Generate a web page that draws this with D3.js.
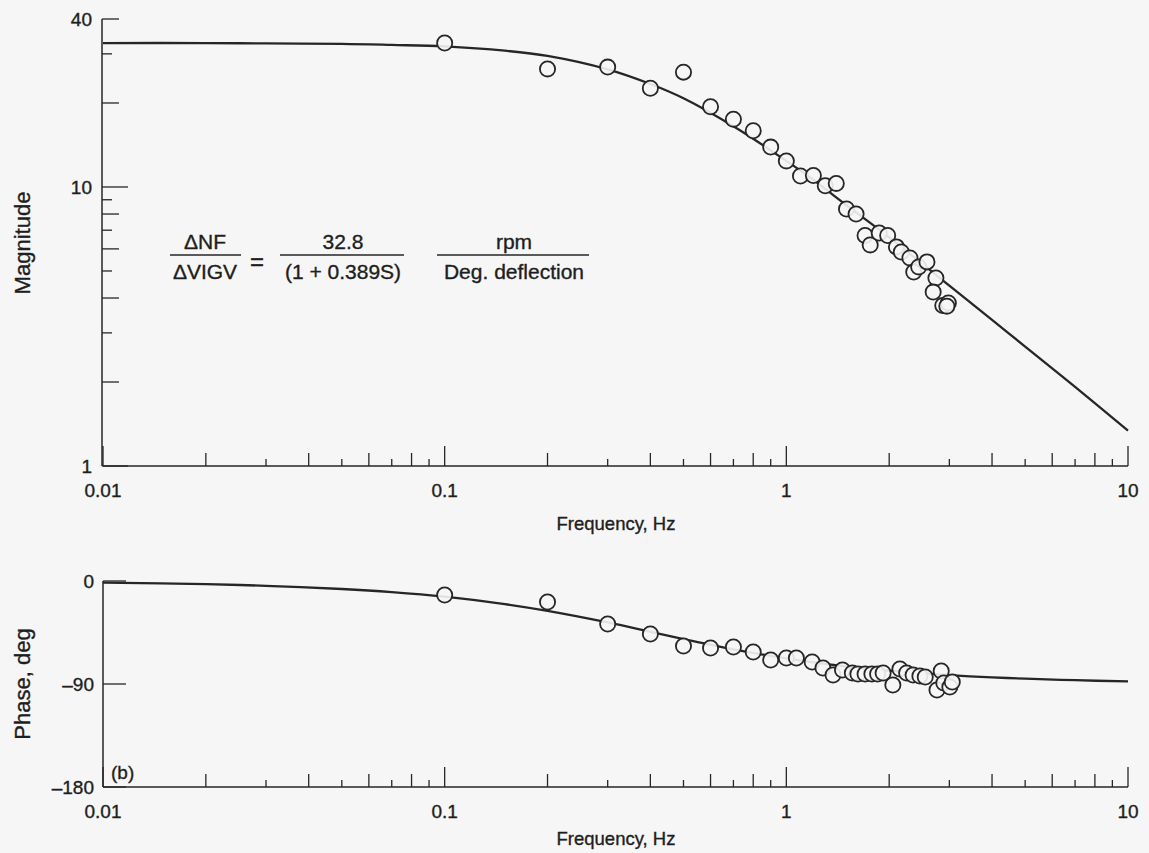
<!DOCTYPE html>
<html>
<head>
<meta charset="utf-8">
<script src="https://cdn.jsdelivr.net/npm/d3@7"></script>
<style>
  html, body { margin: 0; padding: 0; background: #f6f6f6; }
  svg { display: block; font-family: "Liberation Sans", Arial, Helvetica, sans-serif; }
  text { stroke: #1e1e1e; stroke-width: 0.35px; }
</style>
</head>
<body>
<svg id="chart" width="1149" height="853"></svg>
<script>
// ---- Data ----
const freqTickLabels = ["0.01", "0.1", "1", "10"];
const freqTickValues = [0.01, 0.1, 1, 10];
const magTickLabels = ["40", "10", "1"];
const magTickValues = [40, 10, 1];
const phaseTickLabels = ["0", "\u201390", "\u2013180"];
const phaseTickValues = [0, -90, -180];

// fitted curve
const curveFreq  = [0.01, 0.02, 0.03, 0.05, 0.07, 0.1, 0.15, 0.2, 0.3, 0.4, 0.5, 0.7, 1, 1.2, 1.5, 2, 3, 4, 5, 7, 10];
const curveMag   = [32.8, 32.8, 32.7, 32.6, 32.3, 31.9, 30.8, 29.5, 26.4, 23.4, 20.8, 16.5, 12.4, 10.6, 8.6, 6.6, 4.43, 3.34, 2.68, 1.92, 1.34];
const curvePhase = [-1.4, -2.8, -4.2, -7.0, -9.7, -13.7, -20.2, -26.1, -36.2, -44.4, -50.7, -59.7, -67.7, -71.2, -74.7, -78.4, -82.2, -84.2, -85.3, -86.7, -87.7];

// measured points, magnitude plot
const magFreq = [0.1, 0.2, 0.3, 0.4, 0.5, 0.6, 0.7, 0.8, 0.9, 1.0, 1.1, 1.2, 1.3, 1.4, 1.5, 1.6, 1.7, 1.76, 1.87, 1.98, 2.1, 2.17, 2.3, 2.36, 2.44, 2.58, 2.74, 2.69, 2.87, 2.98, 2.95];
const magVal  = [32.8, 26.5, 26.9, 22.6, 25.8, 19.4, 17.5, 15.9, 13.9, 12.4, 10.95, 11.0, 10.1, 10.3, 8.34, 8.0, 6.7, 6.2, 6.84, 6.7, 6.1, 5.85, 5.57, 4.96, 5.17, 5.39, 4.72, 4.2, 3.76, 3.84, 3.74];

// measured points, phase plot
const phFreq = [0.1, 0.2, 0.3, 0.4, 0.5, 0.6, 0.7, 0.8, 0.9, 1.0, 1.07, 1.19, 1.28, 1.37, 1.46, 1.56, 1.62, 1.70, 1.78, 1.85, 1.92, 2.05, 2.15, 2.25, 2.35, 2.46, 2.55, 2.76, 2.84, 2.89, 3.01, 3.06];
const phVal  = [-12.2, -18.4, -37.6, -46.3, -56.8, -58.5, -57.7, -62.0, -69.0, -67.3, -67.3, -70.8, -76.0, -82.1, -77.8, -80.4, -81.3, -81.3, -81.3, -81.3, -80.4, -90.9, -76.9, -80.4, -82.1, -83.0, -83.9, -95.2, -78.6, -89.1, -92.6, -88.3];

// ---- Drawing ----
const INK = "#262626";
const TXT = "#1e1e1e";
const BG = "#f6f6f6";
const svg = d3.select("#chart");
svg.append("rect").attr("width", 1149).attr("height", 853).attr("fill", BG);

const x = d3.scaleLog().domain([0.01, 10]).range([103, 1128]);
const yMag = d3.scaleLog().domain([1, 40]).range([466, 19]);
const yPh = d3.scaleLinear().domain([-180, 0]).range([787, 581]);

// minor tick values for frequency axis
const freqMinor = [];
[0.01, 0.1, 1].forEach(d => { for (let k = 2; k <= 9; k++) freqMinor.push(+(d * k).toPrecision(3)); });

function drawFreqAxis(yPos) {
  const g = svg.append("g");
  g.append("line").attr("x1", x(0.01)).attr("x2", x(10)).attr("y1", yPos).attr("y2", yPos)
    .attr("stroke", INK).attr("stroke-width", 1.5);
  const all = freqTickValues.concat(freqMinor);
  g.selectAll("line.t").data(all).enter().append("line").attr("class", "t")
    .attr("x1", d => x(d)).attr("x2", d => x(d))
    .attr("y1", yPos)
    .attr("y2", d => {
      const m = Math.round(d / Math.pow(10, Math.floor(Math.log10(d) + 1e-9)));
      const len = m === 1 ? 20 : (m % 2 === 0 ? 13 : 7);
      return yPos - len;
    })
    .attr("stroke", INK).attr("stroke-width", 1.3);
  g.selectAll("text").data(freqTickValues).enter().append("text")
    .attr("x", d => x(d)).attr("y", yPos + 31)
    .attr("text-anchor", "middle").attr("font-size", 19).attr("fill", TXT)
    .text((d, i) => freqTickLabels[i]);
}

// ---------- Magnitude plot ----------
svg.append("line").attr("x1", 102).attr("x2", 102).attr("y1", yMag(40)).attr("y2", yMag(1))
  .attr("stroke", INK).attr("stroke-width", 1.5);
const magMinor = [2, 3, 4, 5, 6, 7, 8, 9, 20, 30];
svg.selectAll("line.ym").data(magTickValues.concat(magMinor)).enter().append("line").attr("class", "ym")
  .attr("x1", 102).attr("y1", d => yMag(d)).attr("y2", d => yMag(d))
  .attr("x2", d => {
    if (d === 10 || d === 1) return 102 + 26;
    const m = d >= 10 ? d / 10 : d;
    return 102 + (m % 2 === 0 ? 17 : 10);
  })
  .attr("stroke", INK).attr("stroke-width", 1.3);
svg.selectAll("text.ym").data(magTickValues).enter().append("text").attr("class", "ym")
  .attr("x", 92).attr("y", d => yMag(d) + 7)
  .attr("text-anchor", "end").attr("font-size", 19).attr("fill", TXT)
  .text((d, i) => magTickLabels[i]);
drawFreqAxis(466);

svg.append("text").attr("transform", "translate(30,243) rotate(-90)")
  .attr("text-anchor", "middle").attr("font-size", 22).attr("fill", TXT).text("Magnitude");
svg.append("text").attr("x", 616).attr("y", 530)
  .attr("text-anchor", "middle").attr("font-size", 18.5).attr("fill", TXT).text("Frequency, Hz");

const magLine = d3.line().x((d, i) => x(curveFreq[i])).y(d => yMag(d)).curve(d3.curveCatmullRom.alpha(0.5));
svg.append("path").attr("d", magLine(curveMag)).attr("fill", "none")
  .attr("stroke", INK).attr("stroke-width", 2.3);

svg.selectAll("circle.m").data(magVal).enter().append("circle").attr("class", "m")
  .attr("cx", (d, i) => x(magFreq[i])).attr("cy", d => yMag(d)).attr("r", 7.6)
  .attr("fill", BG).attr("fill-opacity", 0.9).attr("stroke", INK).attr("stroke-width", 1.8);

// equation
const eq = svg.append("g").attr("fill", TXT).attr("font-size", 21);
function frac(cx, x1, x2, num, den) {
  eq.append("text").attr("x", cx).attr("y", 249).attr("text-anchor", "middle").text(num);
  eq.append("line").attr("x1", x1).attr("x2", x2).attr("y1", 255).attr("y2", 255)
    .attr("stroke", INK).attr("stroke-width", 1.3);
  eq.append("text").attr("x", cx).attr("y", 279).attr("text-anchor", "middle").text(den);
}
frac(205, 170, 241, "\u0394NF", "\u0394VIGV");
eq.append("text").attr("x", 257).attr("y", 270).attr("text-anchor", "middle").attr("font-size", 24).text("=");
frac(343, 280, 404, "32.8", "(1 + 0.389S)");
frac(514, 437, 589, "rpm", "Deg. deflection");

// ---------- Phase plot ----------
svg.append("line").attr("x1", 103).attr("x2", 103).attr("y1", yPh(0)).attr("y2", yPh(-180))
  .attr("stroke", INK).attr("stroke-width", 1.5);
svg.selectAll("line.yp").data(phaseTickValues).enter().append("line").attr("class", "yp")
  .attr("x1", 103).attr("x2", 103 + 23).attr("y1", d => yPh(d)).attr("y2", d => yPh(d))
  .attr("stroke", INK).attr("stroke-width", 1.3);
svg.selectAll("text.yp").data(phaseTickValues).enter().append("text").attr("class", "yp")
  .attr("x", 94).attr("y", d => yPh(d) + 7)
  .attr("text-anchor", "end").attr("font-size", 19).attr("fill", TXT)
  .text((d, i) => phaseTickLabels[i]);
drawFreqAxis(787);

svg.append("text").attr("transform", "translate(30,684) rotate(-90)")
  .attr("text-anchor", "middle").attr("font-size", 22).attr("fill", TXT).text("Phase, deg");
svg.append("text").attr("x", 616).attr("y", 845)
  .attr("text-anchor", "middle").attr("font-size", 18.5).attr("fill", TXT).text("Frequency, Hz");
svg.append("text").attr("x", 111).attr("y", 779)
  .attr("font-size", 19).attr("fill", TXT).text("(b)");

const phLine = d3.line().x((d, i) => x(curveFreq[i])).y(d => yPh(d)).curve(d3.curveCatmullRom.alpha(0.5));
svg.append("path").attr("d", phLine(curvePhase)).attr("fill", "none")
  .attr("stroke", INK).attr("stroke-width", 2.3);

svg.selectAll("circle.p").data(phVal).enter().append("circle").attr("class", "p")
  .attr("cx", (d, i) => x(phFreq[i])).attr("cy", d => yPh(d)).attr("r", 7.6)
  .attr("fill", BG).attr("fill-opacity", 0.9).attr("stroke", INK).attr("stroke-width", 1.8);
</script>
</body>
</html>
